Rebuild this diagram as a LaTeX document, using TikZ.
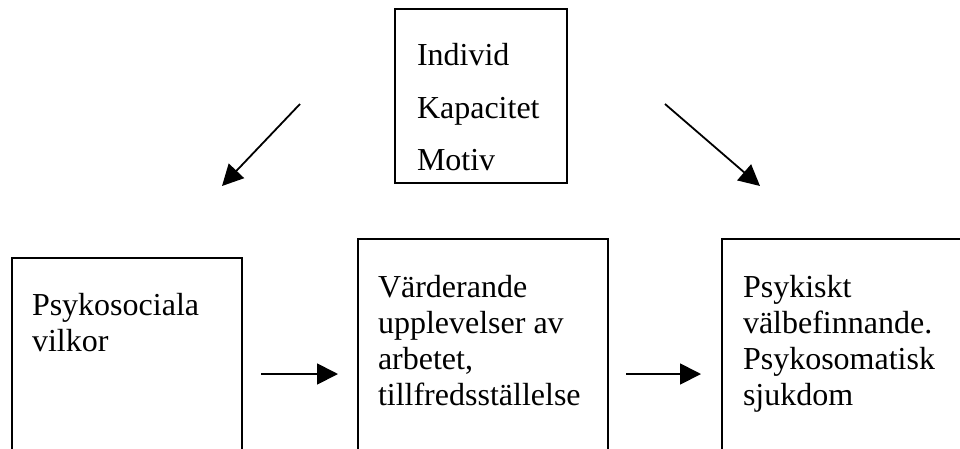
\documentclass[tikz,border=0pt]{standalone}
\usepackage{fontspec}
\setmainfont{Liberation Serif}
\usetikzlibrary{arrows.meta}
\begin{document}
\begin{tikzpicture}[x=1pt,y=-1pt,
  box/.style={draw=black,line width=1.5pt,anchor=north west,inner sep=0pt,outer sep=0pt},
  txt/.style={anchor=base west,inner sep=0pt,outer sep=0pt,font=\fontsize{32}{36}\selectfont},
  flow/.style={line width=1.8pt,-{Triangle[length=21pt,width=21pt]}}]
\useasboundingbox (0,0) rectangle (960,448);
\clip (0,0) rectangle (960,448);
% top box
\node[box,minimum width=172pt,minimum height=174pt] (indiv) at (395,9) {};
\node[txt] (t1) at (417,65) {Individ};
\node[txt] (t2) at (417,118) {Kapacitet};
\node[txt] (t3) at (417,170) {Motiv};
% bottom boxes (running past the lower edge)
\node[box,minimum width=230pt,minimum height=220pt] (psyk) at (12,258) {};
\node[txt] (p1) at (32,315) {Psykosociala};
\node[txt] (p2) at (32,351) {vilkor};
\node[box,minimum width=250pt,minimum height=240pt] (vard) at (358,239) {};
\node[txt] (v1) at (378,297) {Värderande};
\node[txt] (v2) at (378,333) {upplevelser av};
\node[txt] (v3) at (378,369) {arbetet,};
\node[txt] (v4) at (378,405) {tillfredsställelse};
\node[box,minimum width=245pt,minimum height=240pt] (halsa) at (722,239) {};
\node[txt] (h1) at (743,297) {Psykiskt};
\node[txt] (h2) at (743,333) {välbefinnande.};
\node[txt] (h3) at (743,369) {Psykosomatisk};
\node[txt] (h4) at (743,405) {sjukdom};
% arrow ends
\coordinate (la0) at (300,104);
\coordinate (la1) at (222,186);
\coordinate (ra0) at (665,104);
\coordinate (ra1) at (760,186);
\coordinate (ba0) at (261,374);
\coordinate (ba1) at (338,374);
\coordinate (bb0) at (626,374);
\coordinate (bb1) at (701,374);
\draw[flow] (la0) -- (la1);
\draw[flow] (ra0) -- (ra1);
\draw[flow] (ba0) -- (ba1);
\draw[flow] (bb0) -- (bb1);
\end{tikzpicture}
\end{document}
